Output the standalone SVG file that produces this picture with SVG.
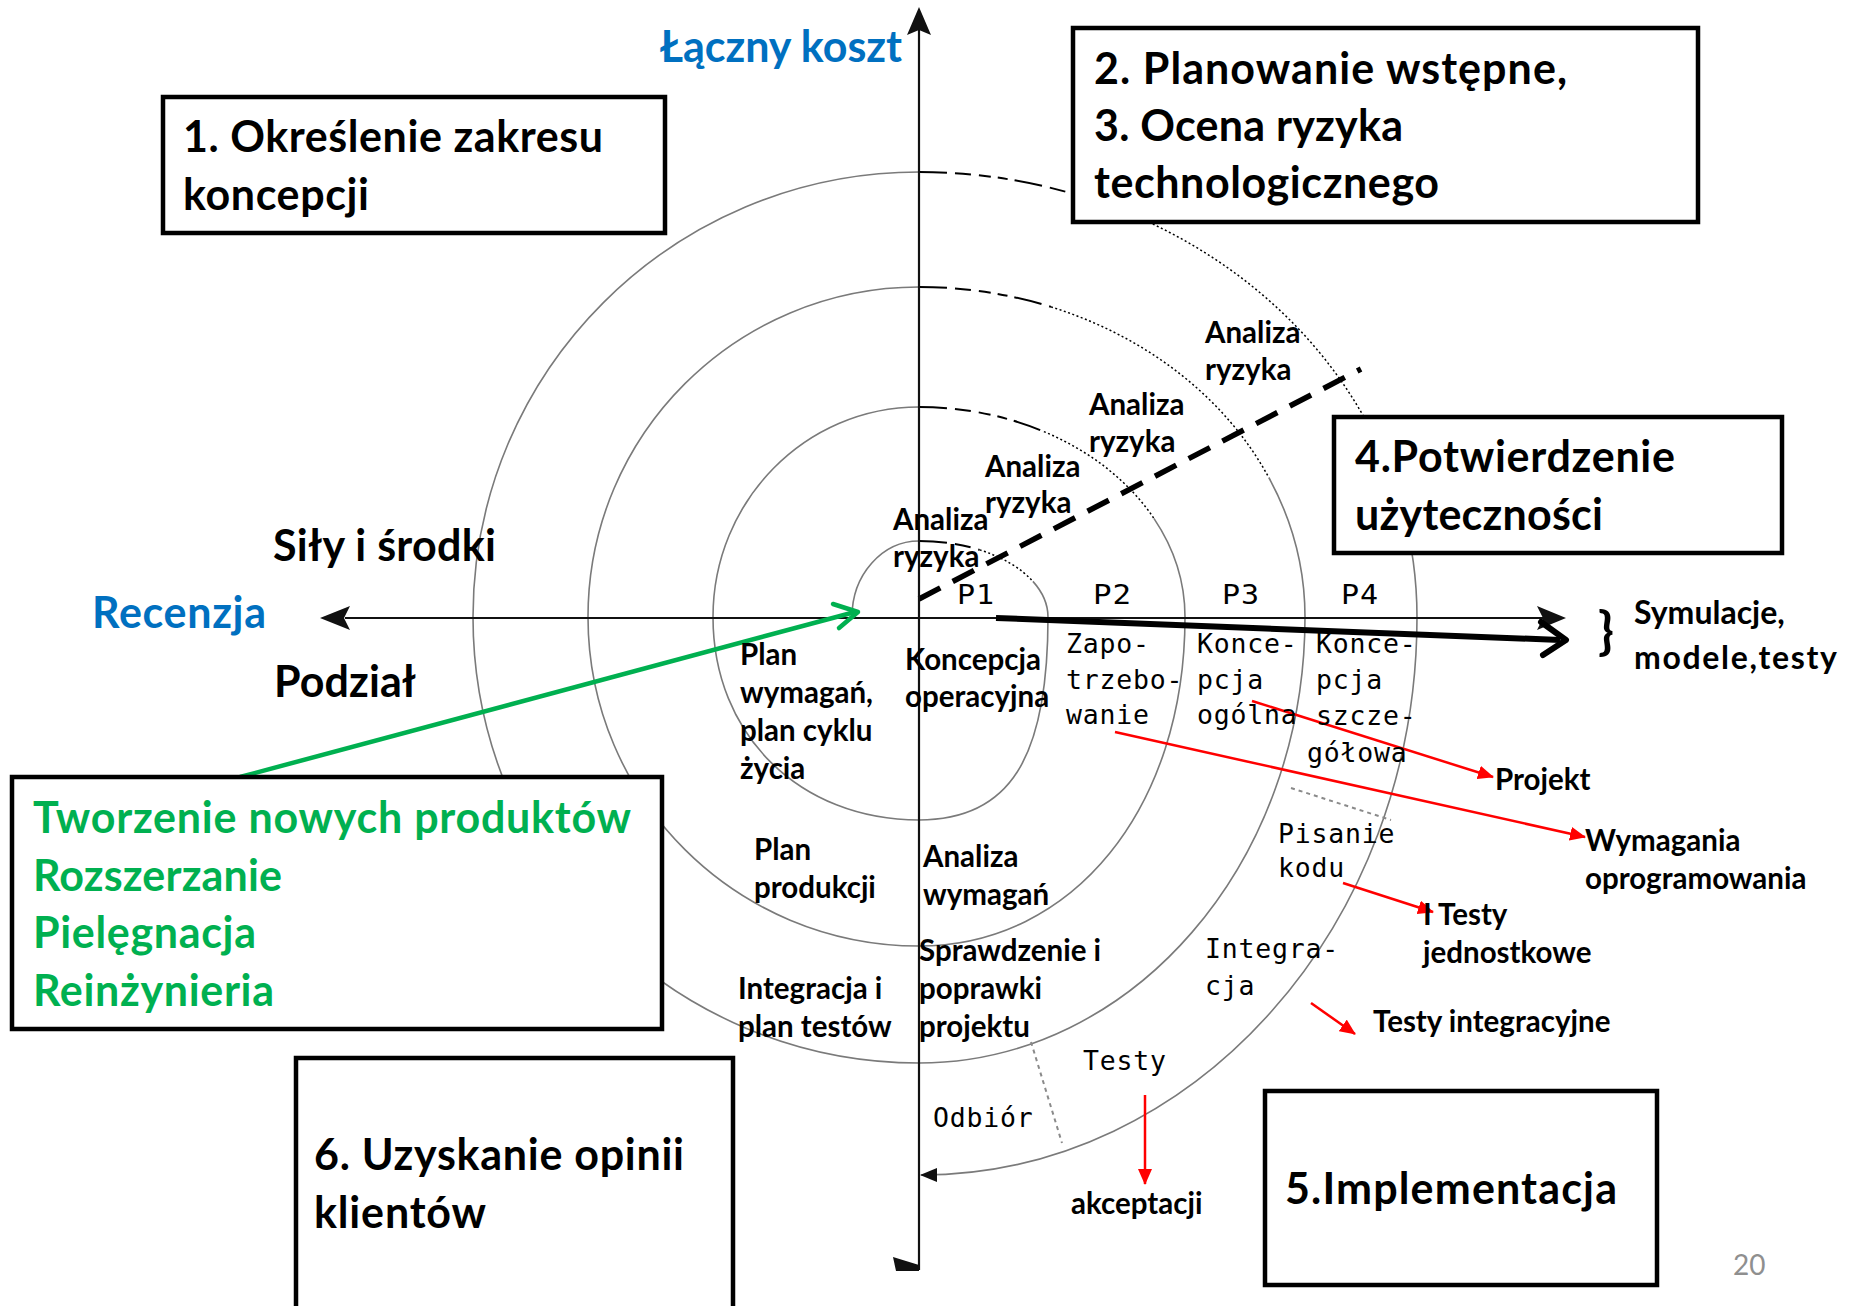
<svg xmlns="http://www.w3.org/2000/svg" width="1852" height="1306" viewBox="0 0 1852 1306">
<style>
.b{font-family:Lato,"Open Sans","Liberation Sans",sans-serif;font-weight:700;fill:#000}
.L{font-size:43px}
.s{font-size:29.5px}
.blue{fill:#0070C0}
.green{fill:#00B050}
.m{font-family:"DejaVu Sans Mono","Liberation Mono",monospace;font-size:26.5px;letter-spacing:0.8px;fill:#000}
.box{fill:#fff;stroke:#000;stroke-width:4.5}
.arc{fill:none;stroke:#7a7a7a;stroke-width:1.6}
.dash{fill:none;stroke:#000;stroke-width:2;stroke-dasharray:28 8 16 8 12 7 10 7}
.dot{fill:none;stroke:#000;stroke-width:1.5;stroke-dasharray:2 2.5}
.rad{fill:none;stroke:#8a8a8a;stroke-width:2;stroke-dasharray:4 4}
.red{fill:none;stroke:#f00;stroke-width:2.5;marker-end:url(#ra)}
.axis{fill:none;stroke:#111;stroke-width:2.2}
</style>
<defs>
<marker id="ra" viewBox="0 0 16 14" refX="15" refY="7" markerWidth="16" markerHeight="14" markerUnits="userSpaceOnUse" orient="auto"><path d="M0,0 L16,7 L0,14 z" fill="#f00"/></marker>
<marker id="sa" viewBox="0 0 17 14" refX="16" refY="7" markerWidth="17" markerHeight="14" markerUnits="userSpaceOnUse" orient="auto"><path d="M0,0 L17,7 L0,14 z" fill="#111"/></marker>
</defs>
<rect width="1852" height="1306" fill="#fff"/>

<g id="spiral">
<path class="arc" d="M852,617 C852,575 882,541 919,541"/>
<path class="dash" d="M919,541 A129,76 0 0 1 979.6,549.9"/>
<path class="dot" d="M979.6,549.9 A129,76 0 0 1 1032.9,581.4"/>
<path class="arc" d="M1032.9,581.4 A129,76 0 0 1 1048,617"/>
<path class="arc" d="M1048,617 C1048,759.1 1009.3,820 919,820"/>
<path class="arc" d="M919,820 C799.5,820 713,734.7 713,617"/>
<path class="arc" d="M713,617 C713,501 805.2,407 919,407"/>
<path class="dash" d="M919,407 A266,210 0 0 1 1043.9,431.6"/>
<path class="dot" d="M1043.9,431.6 A266,210 0 0 1 1153.9,518.4"/>
<path class="arc" d="M1153.9,518.4 A266,210 0 0 1 1185,617"/>
<path class="arc" d="M1185,617 C1185,807.8 1073.3,946 919,946"/>
<path class="arc" d="M919,946 C736.2,946 588,798.7 588,617"/>
<path class="arc" d="M588,617 C588,434.7 736.2,287 919,287"/>
<path class="dash" d="M919,287 A386,330 0 0 1 1051,306.9"/>
<path class="dot" d="M1051,306.9 A386,330 0 0 1 1268.8,477.5"/>
<path class="arc" d="M1268.8,477.5 A386,330 0 0 1 1305,617"/>
<path class="arc" d="M1305,617 C1305,863.3 1132.2,1063 919,1063"/>
<path class="arc" d="M919,1063 C672.7,1063 473,863.3 473,617"/>
<path class="arc" d="M473,617 C473,371.2 672.7,172 919,172"/>
<path class="dash" d="M919,172 A498,445 0 0 1 1072.9,193.8"/>
<path class="dot" d="M1072.9,193.8 A498,445 0 0 1 1366.6,421.9"/>
<path class="arc" d="M1366.6,421.9 A498,445 0 0 1 1417,617"/>
<path class="arc" d="M1417,617 C1417,925.2 1194,1175 921,1175" marker-end="url(#sa)"/>
<path class="rad" d="M1291,788 L1391,820"/>
<path class="rad" d="M1031,1042 L1062,1143"/>
</g>

<g id="connectors">
<path d="M919,599 L1361,369" fill="none" stroke="#000" stroke-width="5.5" stroke-dasharray="24 14"/>
<path class="axis" d="M919,30 L919,1270"/>
<polygon points="919,7 907,35 919,30 931,35" fill="#111"/>
<polygon points="893,1257 919,1265 919,1271 896,1271" fill="#111"/>
<path class="axis" d="M345,618 L1545,618"/>
<polygon points="320,618 350,606 344,618 350,630" fill="#111"/>
<polygon points="1566,618 1537,606 1543,618 1537,630" fill="#111"/>
<path d="M996,618 L1560,640" fill="none" stroke="#000" stroke-width="6"/>
<polyline points="1541,622 1566,640 1543,655" fill="none" stroke="#000" stroke-width="6" stroke-linecap="round" stroke-linejoin="round"/>
<path class="red" d="M1252,701 L1493,777"/>
<path class="red" d="M1115,732 L1585,837"/>
<path class="red" d="M1343,883 L1433,912"/>
<path class="red" d="M1311,1003 L1355,1034"/>
<path class="red" d="M1145,1095 L1145,1184"/>
<path d="M240,777 L855,612" fill="none" stroke="#00B050" stroke-width="4.5"/>
<polyline points="833,604 858,612 839,628" fill="none" stroke="#00B050" stroke-width="4.5" stroke-linecap="round" stroke-linejoin="round"/>
</g>

<g id="box1">
<rect class="box" x="163" y="97" width="502" height="136"/>
<text class="b L" x="183" y="152" textLength="420">1. Określenie zakresu</text>
<text class="b L" x="183" y="210" textLength="186">koncepcji</text>
</g>
<g id="box2">
<rect class="box" x="1073" y="28" width="625" height="194"/>
<text class="b L" x="1094" y="84" textLength="473">2. Planowanie wstępne,</text>
<text class="b L" x="1094" y="141" textLength="309">3. Ocena ryzyka</text>
<text class="b L" x="1094" y="198" textLength="345">technologicznego</text>
</g>
<g id="box4">
<rect class="box" x="1334" y="417" width="448" height="136"/>
<text class="b L" x="1355" y="472" textLength="320">4.Potwierdzenie</text>
<text class="b L" x="1355" y="530" textLength="248">użyteczności</text>
</g>
<g id="box5">
<rect class="box" x="1265" y="1091" width="392" height="194"/>
<text class="b L" x="1285" y="1204" textLength="332">5.Implementacja</text>
</g>
<g id="box6">
<rect class="box" x="296" y="1058" width="437" height="280"/>
<text class="b L" x="314" y="1170" textLength="370">6. Uzyskanie opinii</text>
<text class="b L" x="314" y="1228" textLength="172">klientów</text>
</g>
<g id="boxGreen">
<rect class="box" x="12" y="777" width="650" height="252"/>
<text class="b L green" x="33" y="833" textLength="598">Tworzenie nowych produktów</text>
<text class="b L green" x="33" y="891" textLength="249">Rozszerzanie</text>
<text class="b L green" x="33" y="948" textLength="223">Pielęgnacja</text>
<text class="b L green" x="33" y="1006" textLength="241">Reinżynieria</text>
</g>

<g id="axisLabels">
<text class="b L blue" x="660" y="62" textLength="242">Łączny koszt</text>
<text class="b L" x="273" y="561" textLength="223">Siły i środki</text>
<text class="b L blue" x="92" y="628" textLength="174">Recenzja</text>
<text class="b L" x="274" y="697" textLength="142">Podział</text>
<text class="b" style="font-size:52px" x="1598" y="649">}</text>
<text class="b" style="font-size:32px" x="1634" y="624">Symulacje,</text>
<text class="b" style="font-size:32px" x="1634" y="669" textLength="203">modele,testy</text>
</g>

<g id="risk">
<text class="b s" x="893" y="530">Analiza</text>
<text class="b s" x="893" y="567">ryzyka</text>
<text class="b s" x="985" y="477">Analiza</text>
<text class="b s" x="985" y="513">ryzyka</text>
<text class="b s" x="1089" y="415">Analiza</text>
<text class="b s" x="1089" y="452">ryzyka</text>
<text class="b s" x="1205" y="343">Analiza</text>
<text class="b s" x="1205" y="380">ryzyka</text>
</g>

<g id="phases">
<text class="m" x="957" y="604" textLength="38" lengthAdjust="spacingAndGlyphs">P1</text>
<text class="m" x="1093" y="604" textLength="39" lengthAdjust="spacingAndGlyphs">P2</text>
<text class="m" x="1222" y="604" textLength="38" lengthAdjust="spacingAndGlyphs">P3</text>
<text class="m" x="1341" y="604" textLength="38" lengthAdjust="spacingAndGlyphs">P4</text>
</g>

<g id="quadLabels">
<text class="b s" x="740" y="665">Plan</text>
<text class="b s" x="740" y="703">wymagań,</text>
<text class="b s" x="740" y="741">plan cyklu</text>
<text class="b s" x="740" y="779">życia</text>
<text class="b s" x="905" y="670">Koncepcja</text>
<text class="b s" x="905" y="707">operacyjna</text>
<text class="b s" x="754" y="860">Plan</text>
<text class="b s" x="754" y="898">produkcji</text>
<text class="b s" x="923" y="867">Analiza</text>
<text class="b s" x="923" y="905">wymagań</text>
<text class="b s" x="919" y="961">Sprawdzenie i</text>
<text class="b s" x="919" y="999">poprawki</text>
<text class="b s" x="919" y="1037">projektu</text>
<text class="b s" x="738" y="999">Integracja i</text>
<text class="b s" x="738" y="1037">plan testów</text>
</g>

<g id="devLabels">
<text class="m" x="1066" y="653">Zapo-</text>
<text class="m" x="1066" y="689">trzebo-</text>
<text class="m" x="1066" y="724">wanie</text>
<text class="m" x="1197" y="653">Konce-</text>
<text class="m" x="1197" y="689">pcja</text>
<text class="m" x="1197" y="724">ogólna</text>
<text class="m" x="1316" y="653">Konce-</text>
<text class="m" x="1316" y="689">pcja</text>
<text class="m" x="1316" y="725">szcze-</text>
<text class="m" x="1307" y="762">gółowa</text>
<text class="m" x="1278" y="843">Pisanie</text>
<text class="m" x="1278" y="877">kodu</text>
<text class="m" x="1205" y="958">Integra-</text>
<text class="m" x="1205" y="995">cja</text>
<text class="m" x="1083" y="1070">Testy</text>
<text class="m" x="933" y="1127">Odbiór</text>
</g>

<g id="products">
<text class="b s" x="1495" y="790">Projekt</text>
<text class="b s" x="1585" y="851">Wymagania</text>
<text class="b s" x="1585" y="889">oprogramowania</text>
<text class="b s" x="1423" y="925">I Testy</text>
<text class="b s" x="1423" y="963">jednostkowe</text>
<text class="b s" x="1373" y="1032">Testy integracyjne</text>
<text class="b s" x="1071" y="1214">akceptacji</text>
</g>

<text x="1733" y="1275" style="font-family:Lato,'Liberation Sans',sans-serif;font-size:28px;fill:#8f8f8f">20</text>
</svg>
